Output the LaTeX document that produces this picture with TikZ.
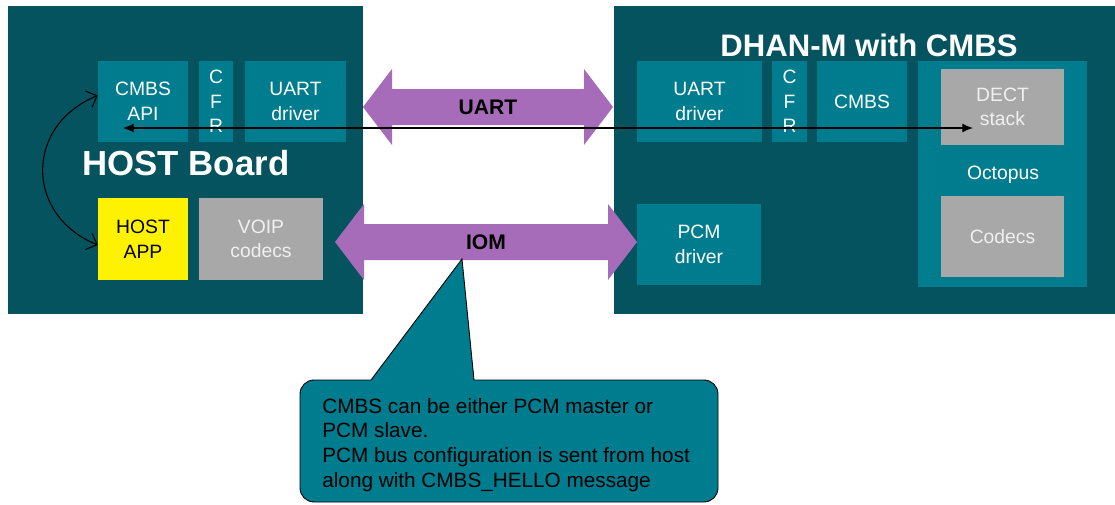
\documentclass[tikz,border=0pt]{standalone}
\usepackage{fontspec}
\setmainfont{Liberation Sans}
\usetikzlibrary{arrows.meta}

\definecolor{board}{RGB}{4,83,94}
\definecolor{block}{RGB}{0,124,143}
\definecolor{blockgray}{RGB}{168,168,168}
\definecolor{bus}{RGB}{166,107,185}

% blocks, titles and links
\tikzset{%
    blk/.style={fill=block,inner sep=0pt,text=white,align=center,font=\fontsize{11}{14}\selectfont},
    grayblk/.style={blk,fill=blockgray,text=white!94!black},
    appblk/.style={blk,fill=yellow,text=black},
    title/.style={text=white,inner sep=0pt,font=\bfseries\fontsize{19.8}{22}\selectfont},
    buslabel/.style={inner sep=0pt,font=\bfseries\fontsize{12}{14}\selectfont},
    link/.style={<->,>={Latex[length=6pt,width=5pt]},line width=0.6pt},
    callout/.style={fill=block,draw=black,line width=0.5pt},
}

\begin{document}
\begin{tikzpicture}[x=0.02cm,y=-0.02cm]

%\blocknode{style}{name}{x1}{y1}{x2}{y2}{text}
\newcommand*{\blocknode}[7]{%
	\node [#1,minimum width={(#5-#3)*0.02cm},minimum height={(#6-#4)*0.02cm}] (#2) at ({(#3+#5)/2},{(#4+#6)/2}) {#7};
}

%\busarrow{name}{xleft}{xright}{y}{text}
\newcommand*{\busarrow}[5]{%
	\fill [bus] (#2,#4) -- (#2+29,#4-38) -- (#2+29,#4-18) -- (#3-29,#4-18) -- (#3-29,#4-38)
		-- (#3,#4) -- (#3-29,#4+38) -- (#3-29,#4+18) -- (#2+29,#4+18) -- (#2+29,#4+38) -- cycle;
	\node [buslabel] (#1) at ({(#2+#3)/2},#4) {#5};
}

\useasboundingbox (0,0) rectangle (1115,504);

% boards
\fill [board] (8,6) rectangle (363,314);
\fill [board] (614,6) rectangle (1116,314);
\node [title] (hosttitle) at (186,163) {HOST Board};
\node [title,font=\bfseries\fontsize{17.7}{21}\selectfont] (dhantitle) at (869,45) {DHAN-M with CMBS};

% host side
\blocknode{blk}{api}{98}{61}{188}{142}{CMBS\\API}
\blocknode{blk}{cfrhost}{199}{61}{233}{142}{C\\F\\R}
\blocknode{blk}{uarthost}{245}{61}{346}{142}{UART\\driver}
\blocknode{appblk}{app}{98}{198}{188}{280}{HOST\\APP}
\blocknode{grayblk}{voip}{199}{198}{323}{280}{VOIP\\codecs}

% dhan side
\blocknode{blk}{uartdhan}{637}{61}{762}{142}{UART\\driver}
\blocknode{blk}{cfrdhan}{772}{61}{807}{142}{C\\F\\R}
\blocknode{blk}{cmbs}{817}{61}{907}{142}{CMBS}
\blocknode{blk}{pcm}{637}{204}{761}{285}{PCM\\driver}
\blocknode{blk}{octopus}{918}{61}{1087}{287}{}
\blocknode{grayblk}{dect}{941}{69}{1064}{145}{DECT\\stack}
\blocknode{grayblk}{codecs}{941}{196}{1064}{277}{Codecs}
\node [text=white,inner sep=0pt,font=\fontsize{11}{14}\selectfont] (octlabel) at (1003,175) {Octopus};

% buses
\busarrow{uart}{363}{613}{107}{UART}
\busarrow{iom}{335}{637}{242}{IOM}

% links
\coordinate (apiend) at (123,128);
\coordinate (dectend) at (973,128);
\draw [link] (apiend) -- (dectend);
\draw [<->,>={Straight Barb[length=5pt]},line width=0.6pt] ([yshift=0.12cm]api.west) .. controls +(-73,30) and +(-73,-30) .. ([yshift=-0.12cm]app.west);

% callout
\draw [callout] (462,259) -- (474,380) [rounded corners=8pt] -- (718,380) -- (718,502) -- (300,502) -- (300,380) [sharp corners] -- (371,380) -- cycle;
\node [anchor=north west,inner sep=0pt,align=left,font=\fontsize{11.8}{14}\selectfont] (note) at (322,398)
	{CMBS can be either PCM master or\\PCM slave.\\PCM bus configuration is sent from host\\along with CMBS\_HELLO message};

\end{tikzpicture}
\end{document}
